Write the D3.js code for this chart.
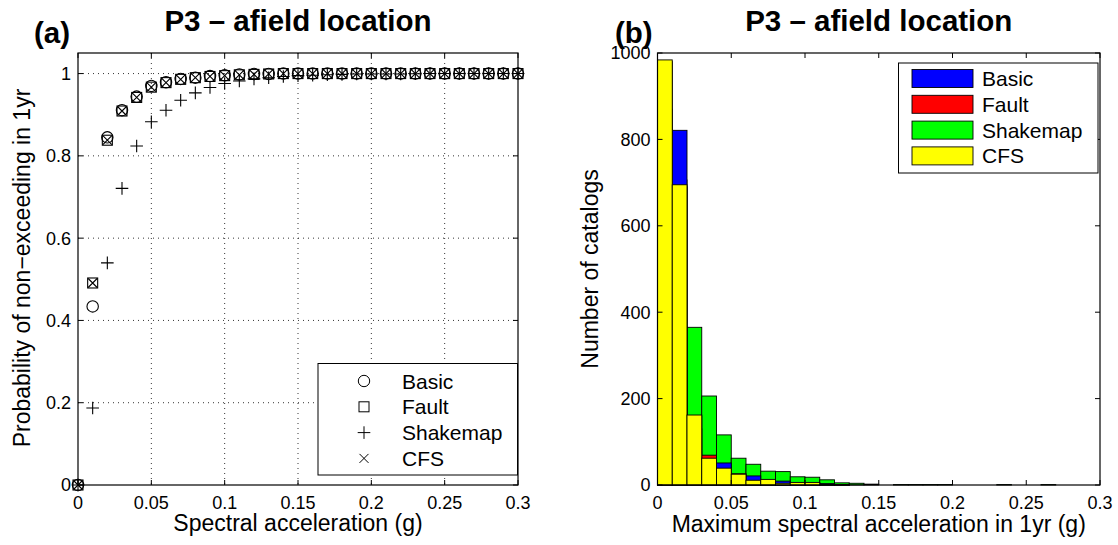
<!DOCTYPE html>
<html><head><meta charset="utf-8">
<script src="https://cdn.jsdelivr.net/npm/d3@7"></script>
<style>
body{margin:0;background:#fff;}
svg{display:block;font-family:"Liberation Sans",Arial,Helvetica,sans-serif;}
</style></head>
<body>
<svg id="chart" width="1118" height="545"></svg>
<script>
// ---------- DATA ----------
const seriesNames = ["Basic", "Fault", "Shakemap", "CFS"];
const accel = [0,0.01,0.02,0.03,0.04,0.05,0.06,0.07,0.08,0.09,0.10,0.11,0.12,0.13,0.14,0.15,0.16,0.17,0.18,0.19,0.20,0.21,0.22,0.23,0.24,0.25,0.26,0.27,0.28,0.29,0.30];
const probBasic    = [0,0.434,0.845,0.911,0.944,0.970,0.979,0.987,0.990,0.994,0.996,0.998,0.999,0.999,1,1,1,1,1,1,1,1,1,1,1,1,1,1,1,1,1];
const probFault    = [0,0.491,0.838,0.909,0.942,0.967,0.978,0.986,0.990,0.993,0.995,0.997,0.998,0.999,1,1,1,1,1,1,1,1,1,1,1,1,1,1,1,1,1];
const probShakemap = [0,0.187,0.540,0.721,0.824,0.883,0.911,0.935,0.953,0.966,0.976,0.982,0.987,0.990,0.993,0.995,0.996,0.997,0.998,0.999,0.999,0.999,0.999,0.9995,1,1,1,1,1,1,1];
const probCFS      = [0,0.491,0.838,0.909,0.942,0.967,0.978,0.986,0.990,0.993,0.995,0.997,0.998,0.999,1,1,1,1,1,1,1,1,1,1,1,1,1,1,1,1,1];

// histogram bins (width 0.01, starting at 0)
const binStarts = [0,0.01,0.02,0.03,0.04,0.05,0.06,0.07,0.08,0.09,0.10,0.11,0.12,0.13,0.14,0.15,0.16,0.17,0.18,0.19,0.20,0.21,0.22,0.23,0.24,0.25,0.26,0.27,0.28,0.29];
const binWidth = 0.01;
const countBasic    = [870,821,130,60,51,20,21,10,9,5,4,3,1,0,0,0,0,0,0,0,0,0,0,0,0,0,0,0,0,0];
const countFault    = [980,690,160,69,38,26,10,12,3,5,5,1,1,0,0,0,0,0,0,0,0,0,0,0,0,0,0,0,0,0];
const countShakemap = [374,706,365,206,116,62,48,32,31,19,18,12,5,4,2,0,1,1,1,1,0,0,0,1,0,0,1,0,0,0];
const countCFS      = [984,695,162,62,39,25,11,13,4,6,6,2,1,0,0,0,0,0,0,0,0,0,0,0,0,0,0,0,0,0];

const xTicks = [0,0.05,0.1,0.15,0.2,0.25,0.3];
const xTickLabels = ["0","0.05","0.1","0.15","0.2","0.25","0.3"];
const yTicksA = [0,0.2,0.4,0.6,0.8,1];
const yTickLabelsA = ["0","0.2","0.4","0.6","0.8","1"];
const yTicksB = [0,200,400,600,800,1000];
const yTickLabelsB = ["0","200","400","600","800","1000"];

const titleText = "P3 – afield location";
// ---------- LAYOUT ----------
const svg = d3.select("#chart");
const yTop = 53, yBottom = 485;
const A = {x0:78, x1:518};
const B = {x0:657.5, x1:1100};
const tickLen = 5;
const tickFont = 18, labelFont = 23, legendFont = 21, titleFont = 29.5;

function frame(g, xs, ys, xt, xtl, yt, ytl, grid){
  const [xa, xb] = xs.range(); const [yb, ya] = ys.range();
  if (grid){
    const gg = g.append("g").attr("stroke","#000").attr("stroke-width",0.8).attr("stroke-dasharray","1,4");
    xt.forEach(t=>{ if(t>xs.domain()[0] && t<xs.domain()[1]) gg.append("line").attr("x1",xs(t)).attr("x2",xs(t)).attr("y1",ya).attr("y2",yb);});
    yt.forEach(t=>{ if(t>ys.domain()[0]) gg.append("line").attr("y1",ys(t)).attr("y2",ys(t)).attr("x1",xa).attr("x2",xb);});
  }
  const tk = g.append("g").attr("stroke","#000").attr("stroke-width",1);
  xt.forEach(t=>{
    tk.append("line").attr("x1",xs(t)).attr("x2",xs(t)).attr("y1",yb).attr("y2",yb-tickLen);
    tk.append("line").attr("x1",xs(t)).attr("x2",xs(t)).attr("y1",ya).attr("y2",ya+tickLen);
  });
  yt.forEach(t=>{
    tk.append("line").attr("y1",ys(t)).attr("y2",ys(t)).attr("x1",xa).attr("x2",xa+tickLen);
    tk.append("line").attr("y1",ys(t)).attr("y2",ys(t)).attr("x1",xb).attr("x2",xb-tickLen);
  });
  g.append("rect").attr("x",xa).attr("y",ya).attr("width",xb-xa).attr("height",yb-ya)
    .attr("fill","none").attr("stroke","#000").attr("stroke-width",1.2);
  xt.forEach((t,i)=>{
    g.append("text").attr("x",xs(t)).attr("y",yb+24).attr("text-anchor","middle")
      .attr("font-size",tickFont).text(xtl[i]);
  });
  yt.forEach((t,i)=>{
    g.append("text").attr("x",xa-7).attr("y",ys(t)).attr("dy","0.36em").attr("text-anchor","end")
      .attr("font-size",tickFont).text(ytl[i]);
  });
}

// ---------- PANEL A ----------
const xA = d3.scaleLinear().domain([0,0.3]).range([A.x0,A.x1]);
const yA = d3.scaleLinear().domain([0,1.05]).range([yBottom,yTop]);
const gA = svg.append("g");
frame(gA, xA, yA, xTicks, xTickLabels, yTicksA, yTickLabelsA, true);

const markers = {
  Basic: (g,x,y)=>g.append("circle").attr("cx",x).attr("cy",y).attr("r",5.7),
  Fault: (g,x,y)=>g.append("rect").attr("x",x-5).attr("y",y-5).attr("width",10).attr("height",10),
  Shakemap: (g,x,y)=>g.append("path").attr("d",`M${x-6.3},${y}H${x+6.3}M${x},${y-6.3}V${y+6.3}`),
  CFS: (g,x,y)=>g.append("path").attr("d",`M${x-4.5},${y-4.5}L${x+4.5},${y+4.5}M${x-4.5},${y+4.5}L${x+4.5},${y-4.5}`)
};
const probs = {Basic:probBasic, Fault:probFault, Shakemap:probShakemap, CFS:probCFS};
const mg = gA.append("g").attr("fill","none").attr("stroke","#000").attr("stroke-width",1.1);
seriesNames.forEach(n=>{
  accel.forEach((a,i)=>markers[n](mg, xA(a), yA(probs[n][i])));
});

// legend A
const legA = gA.append("g");
legA.append("rect").attr("x",318).attr("y",363.5).attr("width",199.5).attr("height",111.5)
  .attr("fill","#fff").attr("stroke","#000").attr("stroke-width",1);
seriesNames.forEach((n,i)=>{
  const cy = 381 + i*25.8;
  const lg = legA.append("g").attr("fill","none").attr("stroke","#000").attr("stroke-width",1);
  markers[n](lg, 364, cy);
  legA.append("text").attr("x",402).attr("y",cy).attr("dy","0.36em").attr("font-size",legendFont).text(n);
});

gA.append("text").attr("x",(A.x0+A.x1)/2).attr("y",31).attr("text-anchor","middle")
  .attr("font-size",titleFont).attr("font-weight","bold").text(titleText);
gA.append("text").attr("x",34).attr("y",43).attr("font-size",titleFont).attr("font-weight","bold").text("(a)");
gA.append("text").attr("x",(A.x0+A.x1)/2).attr("y",531).attr("text-anchor","middle")
  .attr("font-size",labelFont).text("Spectral acceleration (g)");
gA.append("text").attr("transform",`translate(30,268) rotate(-90)`).attr("text-anchor","middle")
  .attr("font-size",labelFont).text("Probability of non−exceeding in 1yr");

// ---------- PANEL B ----------
const xB = d3.scaleLinear().domain([0,0.3]).range([B.x0,B.x1]);
const yB = d3.scaleLinear().domain([0,1000]).range([yBottom,yTop]);
const gB = svg.append("g");
const colors = {Basic:"#0000ff", Fault:"#ff0000", Shakemap:"#00ff00", CFS:"#ffff00"};
const counts = {Basic:countBasic, Fault:countFault, Shakemap:countShakemap, CFS:countCFS};
const drawOrder = ["Shakemap","Basic","Fault","CFS"];
const barG = gB.append("g");
drawOrder.forEach(n=>{
  barG.append("g").selectAll("rect").data(binStarts.map((b,i)=>({b, c:counts[n][i]})).filter(d=>d.c>0))
    .join("rect")
    .attr("x",d=>xB(d.b)).attr("width",d=>xB(d.b+binWidth)-xB(d.b))
    .attr("y",d=>yB(d.c)).attr("height",d=>yB(0)-yB(d.c))
    .attr("fill",colors[n]).attr("stroke","#000").attr("stroke-width",0.9);
});
frame(gB, xB, yB, xTicks, xTickLabels, yTicksB, yTickLabelsB, false);

// legend B
const legB = gB.append("g");
legB.append("rect").attr("x",898.5).attr("y",63).attr("width",199.5).attr("height",110)
  .attr("fill","#fff").attr("stroke","#000").attr("stroke-width",1);
seriesNames.forEach((n,i)=>{
  const cy = 78.5 + i*25.8;
  legB.append("rect").attr("x",912).attr("y",cy-9).attr("width",61).attr("height",18)
    .attr("fill",colors[n]).attr("stroke","#000").attr("stroke-width",0.9);
  legB.append("text").attr("x",982).attr("y",cy).attr("dy","0.36em").attr("font-size",legendFont).text(n);
});

gB.append("text").attr("x",(B.x0+B.x1)/2).attr("y",31).attr("text-anchor","middle")
  .attr("font-size",titleFont).attr("font-weight","bold").text(titleText);
gB.append("text").attr("x",615).attr("y",43).attr("font-size",titleFont).attr("font-weight","bold").text("(b)");
gB.append("text").attr("x",(B.x0+B.x1)/2).attr("y",532).attr("text-anchor","middle")
  .attr("font-size",labelFont).text("Maximum spectral acceleration in 1yr (g)");
gB.append("text").attr("transform",`translate(598,269) rotate(-90)`).attr("text-anchor","middle")
  .attr("font-size",labelFont).text("Number of catalogs");
</script>
</body></html>
